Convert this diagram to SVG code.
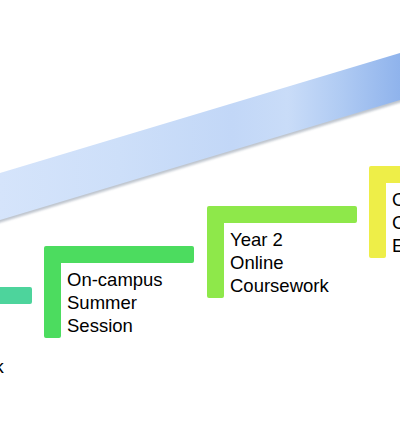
<svg xmlns="http://www.w3.org/2000/svg" width="400" height="432" viewBox="0 0 400 432">
  <style>
    .lbl { font-family: "Liberation Sans", Arial, sans-serif; font-size: 18.5px; fill: #000; }
  </style>
  <defs>
    <linearGradient id="bandGrad" gradientUnits="userSpaceOnUse" x1="0" y1="0" x2="400" y2="0">
      <stop offset="0" stop-color="#d5e4fb"/>
      <stop offset="0.3" stop-color="#cddff9"/>
      <stop offset="0.58" stop-color="#c2d7f7"/>
      <stop offset="0.72" stop-color="#c9dcf8"/>
      <stop offset="0.85" stop-color="#b0cbf3"/>
      <stop offset="1" stop-color="#8fb3ec"/>
    </linearGradient>
    <filter id="shadow" x="-5%" y="-20%" width="110%" height="140%">
      <feGaussianBlur stdDeviation="0.8"/>
    </filter>
    <path id="ell" d="M2,0 H148 Q150,0 150,2 V15 Q150,17 148,17 H17 V90 Q17,92 15,92 H2 Q0,92 0,90 V2 Q0,0 2,0 Z"/>
  </defs>

  <g id="connectors">
    <polygon points="-10,177 410,51 410,98 -10,224" fill="#8a96a6" opacity="0.55" filter="url(#shadow)" transform="translate(0.5,1.5)"/>
    <polygon points="-10,176 410,50 410,97 -10,223" fill="url(#bandGrad)"/>
  </g>

  <g id="node1" transform="translate(-118,287)">
    <use href="#ell" fill="#4dd49c"/>
    <text class="lbl" x="23" y="86">Coursework</text>
  </g>

  <g id="node2" transform="translate(44,246)">
    <use href="#ell" fill="#4cdc5f"/>
    <text class="lbl" x="23" y="40">On-campus</text>
    <text class="lbl" x="23" y="63">Summer</text>
    <text class="lbl" x="23" y="86">Session</text>
  </g>

  <g id="node3" transform="translate(207,206)">
    <use href="#ell" fill="#8ee84a"/>
    <text class="lbl" x="23" y="40">Year 2</text>
    <text class="lbl" x="23" y="63">Online</text>
    <text class="lbl" x="23" y="86">Coursework</text>
  </g>

  <g id="node4" transform="translate(369,166)">
    <use href="#ell" fill="#eeee48"/>
    <text class="lbl" x="23" y="40">Online</text>
    <text class="lbl" x="23" y="63">Comprehensive</text>
    <text class="lbl" x="23" y="86">Exam</text>
  </g>
</svg>
